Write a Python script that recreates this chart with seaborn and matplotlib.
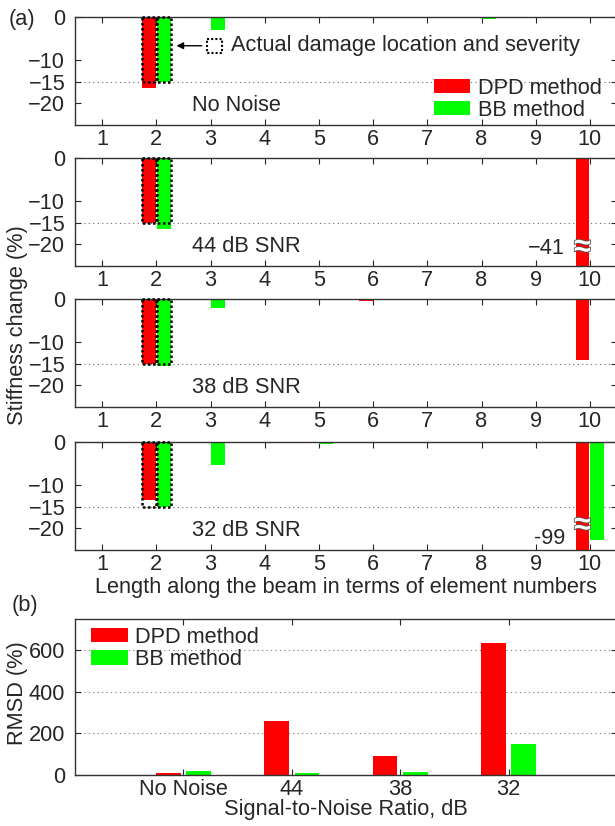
import numpy as np
import pandas as pd
import matplotlib
matplotlib.use("Agg")
import matplotlib.pyplot as plt
import seaborn as sns
from matplotlib.patches import Rectangle
import matplotlib.patheffects as pe

# ---------------- data ----------------
elements = [1, 2, 3, 4, 5, 6, 7, 8, 9, 10]
methods = ["DPD method", "BB method"]
panel_titles = ["No Noise", "44 dB SNR", "38 dB SNR", "32 dB SNR"]

dpd_nonoise = [0, -16.5, 0, 0, 0, 0, 0, 0, 0, 0]
bb_nonoise = [0, -15.0, -3.0, 0, 0, 0, 0, -0.5, 0, 0]
dpd_44 = [0, -15.0, 0, 0, 0, -0.3, 0, 0, 0, -41]
bb_44 = [0, -16.4, -0.2, 0, 0, 0, 0, 0, 0, 0]
dpd_38 = [0, -15.0, 0, 0, 0, -0.4, 0, 0, 0, -14.2]
bb_38 = [0, -15.6, -2.1, -0.3, 0, 0, 0, 0, 0, 0]
dpd_32 = [0, -13.4, 0, 0, -0.3, 0, 0, 0, 0, -99]
bb_32 = [0, -15.0, -5.3, 0, -0.4, 0, 0, 0, 0, -22.7]
actual_damage = [0, -15, 0, 0, 0, 0, 0, 0, 0, 0]

dpd_series = [dpd_nonoise, dpd_44, dpd_38, dpd_32]
bb_series = [bb_nonoise, bb_44, bb_38, bb_32]
offscale_labels = [None, "\u221241", None, "-99"]

snr_levels = ["No Noise", "44", "38", "32"]
rmsd_dpd = [11, 260, 89, 634]
rmsd_bb = [19, 8, 15, 148]

# ---------------- style ----------------
FS = 15.7
sns.set_style("ticks")
plt.rcParams["font.family"] = ["Liberation Sans", "DejaVu Sans"]
plt.rcParams.update({
    "font.size": FS,
    "xtick.direction": "in",
    "ytick.direction": "in",
    "xtick.top": True,
    "ytick.right": True,
    "xtick.major.size": 4,
    "ytick.major.size": 4,
    "axes.linewidth": 1.0,
    "axes.edgecolor": "#333333",
})
palette = {"DPD method": "#ff0000", "BB method": "#00ff00"}

W, H = 615, 826
fig = plt.figure(figsize=(W / 100, H / 100), dpi=100)

left = 75 / W
width = 542 / W
panel_px = [(17, 125), (158, 266), (299, 407), (442, 550)]

for i, (top, bot) in enumerate(panel_px):
    ax = fig.add_axes([left, 1 - bot / H, width, (bot - top) / H])
    df = pd.DataFrame({
        "element": elements * 2,
        "change": dpd_series[i] + bb_series[i],
        "method": [methods[0]] * len(elements) + [methods[1]] * len(elements),
    })
    sns.barplot(data=df, x="element", y="change", hue="method", palette=palette,
                hue_order=methods, width=0.55, gap=0.08, ax=ax, legend=(i == 0),
                linewidth=0, saturation=1)
    ax.set_xlim(-0.5, 9.5)
    ax.set_ylim(-25, 0)
    ax.set_yticks([0, -10, -15, -20])
    ax.set_yticklabels(["0", "\u221210", "\u221215", "\u221220"])
    ax.set_xlabel("")
    ax.set_ylabel("")
    ax.tick_params(axis="x", labelsize=FS, pad=3)
    ax.tick_params(axis="y", labelsize=FS, pad=7)
    ax.axhline(-15, color="#666666", ls=(0, (1, 3)), lw=0.8, zorder=0)
    ax.text(1.66, -20.5, panel_titles[i], ha="left", va="center", fontsize=FS)

    # dotted boxes for actual damage, aligned with the drawn bars
    n = len(elements)
    bars = ax.patches[:2 * n]
    for j, dmg in enumerate(actual_damage):
        if dmg != 0:
            for b in (bars[j], bars[n + j]):
                ax.add_patch(Rectangle((b.get_x(), 0), b.get_width(), dmg,
                                       fill=False, ec="black", lw=1.8,
                                       ls=(0, (1, 1)), zorder=5, clip_on=False))
    # off-scale label and break mark
    if offscale_labels[i] is not None:
        b = bars[n - 1]
        cx = b.get_x() + b.get_width() / 2
        ybreak = -20.8 if i == 1 else -19.4
        ax.text(cx, ybreak, "\u2248", color="white", ha="center", va="center",
                fontsize=22, fontweight="bold", zorder=6,
                path_effects=[pe.withStroke(linewidth=1.2, foreground="#555555")])
        ax.text(8.54, -20.9 if i == 1 else -22.3, offscale_labels[i],
                ha="right", va="center", fontsize=FS)

    if i == 0:
        ax.legend(loc="lower right", frameon=False, fontsize=FS,
                  handlelength=1.65, handleheight=0.6, borderaxespad=0,
                  borderpad=0, labelspacing=0.05, handletextpad=0.37,
                  bbox_to_anchor=(0.972, 0.04))
        # annotation
        ax.annotate("", xy=(1.32, -6.65), xytext=(1.89, -6.65),
                    arrowprops=dict(arrowstyle="-|>", color="black", lw=1.0,
                                    mutation_scale=10))
        ax.add_patch(Rectangle((1.93, -5.1), 0.29, -3.3, fill=False, ec="black",
                               lw=1.5, ls=(0, (1, 1)), zorder=5))
        ax.text(2.38, -6.65, "Actual damage location and severity",
                ha="left", va="center", fontsize=FS)

fig.text(346 / W, 1 - 587 / H, "Length along the beam in terms of element numbers",
         ha="center", va="center", fontsize=FS)
fig.text(18 / W, 1 - 325 / H, "Stiffness change (%)", rotation=90,
         ha="center", va="center", fontsize=FS)
fig.text(22 / W, 1 - 20 / H, "(a)", ha="center", va="center", fontsize=FS)
fig.text(25 / W, 1 - 605 / H, "(b)", ha="center", va="center", fontsize=FS)

# ---------------- panel (b) ----------------
axb = fig.add_axes([left, 1 - 775 / H, width, 156 / H])
dfb = pd.DataFrame({
    "snr": snr_levels * 2,
    "rmsd": rmsd_dpd + rmsd_bb,
    "method": [methods[0]] * len(snr_levels) + [methods[1]] * len(snr_levels),
})
sns.barplot(data=dfb, x="snr", y="rmsd", hue="method", palette=palette,
            hue_order=methods, order=snr_levels, width=0.56, gap=0.18, ax=axb,
            linewidth=0, saturation=1)
axb.set_xlim(-1, 4)
axb.set_ylim(0, 750)
axb.set_yticks([0, 200, 400, 600])
axb.set_xlabel("")
axb.set_ylabel("")
axb.tick_params(axis="x", labelsize=FS, pad=3)
axb.tick_params(axis="y", labelsize=FS, pad=7)
for yv in [200, 400, 600]:
    axb.axhline(yv, color="#777777", ls=(0, (1, 3)), lw=0.8, zorder=0)
axb.legend(loc="upper left", frameon=False, fontsize=FS, handlelength=1.7,
           handleheight=0.65, borderaxespad=0, borderpad=0, labelspacing=0.05,
           handletextpad=0.32, bbox_to_anchor=(0.029, 0.95))
fig.text(346 / W, 1 - 810 / H, "Signal-to-Noise Ratio, dB", ha="center",
         va="center", fontsize=FS)
fig.text(18 / W, 1 - 693 / H, "RMSD (%)", rotation=90, ha="center",
         va="center", fontsize=FS)

fig.savefig("out.png", dpi=100)
